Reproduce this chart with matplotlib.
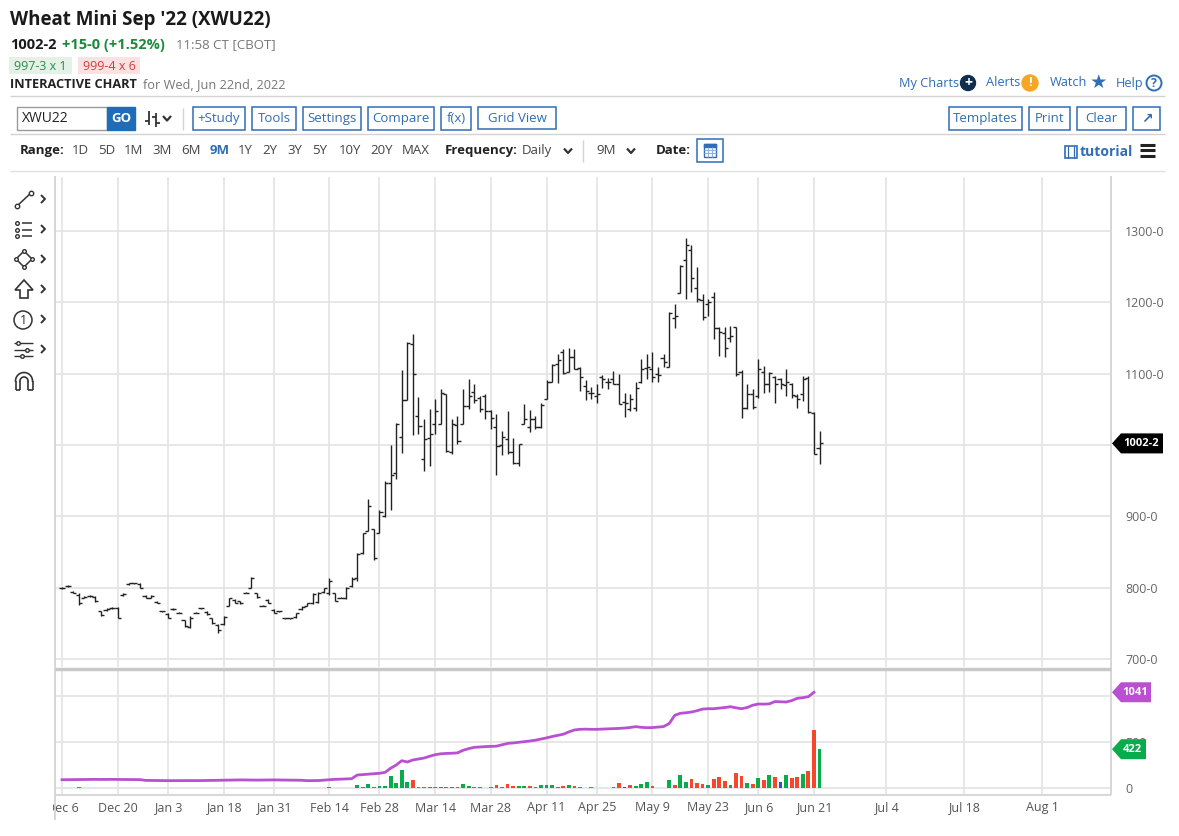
import numpy as np
import pandas as pd
import matplotlib
matplotlib.use('Agg')
import matplotlib.pyplot as plt
from matplotlib.patches import Rectangle, Polygon, Circle
from matplotlib.transforms import blended_transform_factory, Bbox

plt.rcParams['font.family'] = ['Open Sans', 'DejaVu Sans']

# ---------------- data ----------------
holidays = ['2021-12-24', '2022-01-17', '2022-02-21', '2022-04-15', '2022-05-30', '2022-06-20']
dates = pd.bdate_range('2021-12-06', '2022-06-22')
dates = dates[~dates.isin(pd.to_datetime(holidays))]

opens = [800, 802, 794, 790, 786, 789, 787, 767, 769, 772,
         772, 790, 805, 806, 805, 789, 786, 780, 767, 763,
         770, 765, 754, 745, 765, 771, 766, 757, 748, 749,
         775, 783, 781, 793, 800, 792, 775, 783, 769, 767,
         757, 757, 759, 770, 775, 778, 780, 794, 792, 792,
         786, 785, 802, 813, 848, 880, 882, 877, 900, 947,
         961, 1011, 1063, 1141, 1040, 980, 1010, 1030, 1030, 1071,
         990, 1028, 1029, 1054, 1075, 1066, 1068, 1048, 1025, 1000,
         1009, 990, 975, 1030, 1025, 1037, 1025, 1065, 1088, 1113,
         1130, 1103, 1124, 1108, 1083, 1073, 1068, 1095, 1088, 1092,
         1086, 1060, 1050, 1052, 1089, 1108, 1106, 1100, 1122, 1110,
         1178, 1213, 1260, 1274, 1220, 1203, 1198, 1208, 1164, 1157,
         1150, 1165, 1103, 1052, 1072, 1068, 1103, 1086, 1095, 1092,
         1084, 1086, 1068, 1072, 1094, 1045, 996]
highs = [801, 804, 795, 792, 788, 790, 788, 768, 771, 773,
         773, 792, 807, 807, 806, 790, 790, 781, 768, 764,
         771, 766, 755, 760, 766, 772, 767, 758, 749, 760,
         786, 784, 782, 794, 815, 793, 776, 784, 770, 768,
         758, 758, 765, 774, 779, 793, 794, 800, 813, 793,
         787, 801, 815, 849, 877, 925, 882, 909, 950, 1000,
         1031, 1105, 1144, 1156, 1067, 1037, 1050, 1064, 1078, 1072,
         1036, 1040, 1078, 1093, 1085, 1068, 1071, 1049, 1044, 1019,
         1048, 1010, 1002, 1057, 1049, 1040, 1059, 1091, 1114, 1128,
         1135, 1136, 1135, 1109, 1091, 1082, 1086, 1098, 1094, 1104,
         1100, 1073, 1071, 1089, 1121, 1128, 1131, 1109, 1127, 1187,
         1197, 1253, 1290, 1281, 1249, 1212, 1205, 1215, 1166, 1165,
         1167, 1166, 1105, 1085, 1079, 1120, 1111, 1103, 1097, 1094,
         1107, 1087, 1072, 1097, 1097, 1046, 1019]
lows = [798, 801, 792, 776, 785, 787, 780, 760, 768, 770,
        757, 789, 804, 805, 799, 785, 785, 778, 766, 757,
        769, 764, 745, 743, 764, 770, 762, 749, 736, 748,
        774, 778, 777, 792, 800, 786, 774, 778, 764, 766,
        756, 756, 758, 769, 774, 777, 779, 793, 790, 781,
        785, 784, 801, 810, 847, 879, 839, 876, 899, 909,
        953, 989, 1063, 1014, 1016, 963, 971, 1016, 1029, 990,
        987, 1001, 1029, 1051, 1059, 1046, 1036, 1022, 958, 986,
        988, 973, 971, 1029, 1018, 1023, 1024, 1064, 1088, 1087,
        1100, 1103, 1106, 1076, 1063, 1064, 1059, 1080, 1079, 1085,
        1057, 1039, 1047, 1047, 1087, 1092, 1089, 1089, 1110, 1109,
        1164, 1213, 1205, 1214, 1200, 1175, 1181, 1148, 1125, 1124,
        1145, 1097, 1038, 1051, 1051, 1066, 1073, 1075, 1059, 1078,
        1068, 1066, 1052, 1061, 1045, 987, 973]
closes = [800, 803, 793, 778, 787, 788, 781, 761, 770, 771,
          758, 791, 806, 806, 800, 786, 789, 779, 767, 758,
          770, 765, 746, 758, 765, 771, 763, 750, 740, 759,
          785, 779, 778, 793, 813, 787, 775, 779, 765, 767,
          757, 757, 764, 773, 778, 791, 792, 799, 810, 782,
          786, 800, 812, 847, 876, 914, 841, 906, 947, 958,
          1030, 1063, 1143, 1100, 1026, 1009, 1015, 1048, 1073, 991,
          1030, 1005, 1054, 1068, 1063, 1050, 1047, 1038, 998, 1011,
          990, 975, 1001, 1037, 1036, 1025, 1056, 1088, 1112, 1119,
          1101, 1124, 1107, 1096, 1076, 1073, 1072, 1093, 1089, 1086,
          1058, 1059, 1064, 1080, 1107, 1110, 1096, 1098, 1117, 1185,
          1181, 1251, 1281, 1234, 1204, 1180, 1200, 1164, 1159, 1136,
          1153, 1099, 1052, 1072, 1053, 1106, 1086, 1101, 1086, 1086,
          1088, 1070, 1064, 1092, 1046, 987.25, 1002.25]
volume = [4, 4, 4, 8, 4, 4, 4, 4, 4, 4,
          4, 4, 4, 4, 4, 4, 4, 4, 4, 4,
          4, 4, 4, 4, 4, 4, 4, 4, 4, 4,
          4, 4, 4, 4, 4, 4, 4, 4, 4, 4,
          4, 4, 4, 4, 4, 5, 5, 5, 6, 3,
          3, 4, 4, 33, 11, 43, 11, 22, 25, 130,
          54, 192, 69, 90, 11, 11, 11, 11, 14, 11,
          7, 14, 43, 25, 11, 11, 4, 11, 33, 14,
          43, 18, 18, 22, 25, 11, 29, 29, 29, 11,
          25, 36, 18, 11, 3, 7, 3, 3, 3, 11,
          54, 14, 29, 22, 40, 62, 18, 4, 4, 87,
          36, 138, 65, 94, 51, 40, 33, 98, 116, 76,
          29, 163, 130, 54, 43, 105, 87, 138, 116, 69,
          141, 105, 116, 152, 185, 634, 422]
# g = up, r = down, b = unchanged
vol_dir = ("ggrrggrrgg" "rggbrrgrrr" "grrgggrrrg" "grrggrrgrg" "rbgggggggr"
           "ggggggrggg" "gggrrrgrgr" "grggrrgrrg" "rrggrrgggg" "rgrrrrrgrr"
           "rbrgggrggg" "rggrrrgrrr" "grrgrgrgrb" "grrgrrg")
open_int = [90, 90, 91, 92, 93, 94, 94, 93, 94, 94,
            93, 93, 92, 92, 91, 83, 82, 81, 81, 80,
            80, 81, 80, 80, 81, 81, 82, 83, 85, 86,
            87, 87, 88, 87, 87, 86, 87, 87, 88, 87,
            86, 86, 85, 84, 80, 80, 81, 86, 90, 94,
            96, 98, 101, 141, 146, 150, 155, 160, 170, 215,
            250, 297, 283, 305, 316, 326, 345, 362, 372, 376,
            378, 382, 410, 428, 442, 446, 450, 452, 455, 470,
            485, 490, 497, 503, 511, 520, 532, 545, 560, 573,
            585, 610, 631, 638, 640, 638, 638, 641, 643, 645,
            648, 652, 658, 667, 660, 656, 657, 662, 668, 700,
            790, 812, 818, 826, 840, 858, 862, 862, 868, 875,
            884, 872, 862, 875, 900, 913, 912, 915, 940, 938,
            935, 950, 975, 982, 993, 1041]

tick_dates = ['2021-12-06', '2021-12-20', '2022-01-03', '2022-01-18', '2022-01-31',
              '2022-02-14', '2022-02-28', '2022-03-14', '2022-03-28', '2022-04-11',
              '2022-04-25', '2022-05-09', '2022-05-23', '2022-06-06', '2022-06-21',
              '2022-07-04', '2022-07-18', '2022-08-01']
price_ticks = [700, 800, 900, 1000, 1100, 1200, 1300]
vol_ticks = [0, 500, 1000]
last_price, last_price_txt = 1002.25, '1002-2'

# ---------------- layout ----------------
W, H = 1179, 836
fig = plt.figure(figsize=(W / 100, H / 100), dpi=100)


def fbox(x0, y0, x1, y1):
    return [x0 / W, 1 - y1 / H, (x1 - x0) / W, (y1 - y0) / H]


ax = fig.add_axes(fbox(55, 177, 1110, 667))
axv = fig.add_axes(fbox(55, 670, 1110, 795))
bg = fig.add_axes([0, 0, 1, 1], zorder=10)
bg.set_xlim(0, W)
bg.set_ylim(H, 0)
bg.axis('off')

x = np.arange(len(closes))
tick_pos = []
for d in pd.to_datetime(tick_dates):
    if d in dates:
        tick_pos.append(dates.get_loc(d))
    else:
        tick_pos.append(len(dates) - 1 + (d - dates[-1]).days)

xlim = (-1.257, 188.15)
grid_kw = dict(color='#e3e3e3', lw=1.2)

# price bars
ax.vlines(x, lows, highs, color='#222222', lw=1.0)
ax.hlines(opens, x - 0.55, x, color='#222222', lw=1.0)
ax.hlines(closes, x, x + 0.55, color='#222222', lw=1.0)
ax.set_xlim(*xlim)
ax.set_ylim(688.8, 1375.7)
ax.set_xticks(tick_pos)
ax.set_yticks(price_ticks)
# the label under the last-price tag is hidden by the tag in the original
ax.set_yticklabels(['' if abs(p - last_price) < 20 else f'{p}-0' for p in price_ticks])
ax.yaxis.tick_right()
ax.tick_params(length=0, pad=11, labelsize=9, labelcolor='#666666', labelbottom=False)
ax.grid(True, **grid_kw)
ax.set_axisbelow(True)
for s in ax.spines.values():
    s.set_visible(False)

# volume + open interest
cmap = {'g': '#0aab4b', 'r': '#f4472b', 'b': '#2a52c4'}
axv.bar(x, volume, width=0.68, color=[cmap[c] for c in vol_dir], lw=0, zorder=3)
axv.plot(x[:len(open_int)], open_int, color='#b94fd1', lw=2, zorder=4)
axv.set_xlim(*xlim)
axv.set_ylim(-76, 1283)
axv.set_xticks(tick_pos)
axv.set_yticks(vol_ticks)
axv.set_yticklabels(['' if abs(v - open_int[-1]) < 100 else str(v) for v in vol_ticks])
axv.yaxis.tick_right()
axv.tick_params(length=0, pad=11, labelsize=9, labelcolor='#666666', labelbottom=False)
axv.grid(True, **grid_kw)
axv.set_axisbelow(True)
for s in axv.spines.values():
    s.set_visible(False)

# date labels (clipped at the left border like the original)
tr = blended_transform_factory(axv.transData, bg.transData)
for p, d in zip(tick_pos, pd.to_datetime(tick_dates)):
    t = bg.text(p, 808, f'{d:%b} {d.day}', transform=tr, ha='center', va='center',
                fontsize=9, color='#555555')
    t.set_clip_on(True)
    t.set_clip_box(Bbox.from_extents(53, 0, W, H))


def txt(x, y, s, size=9.5, color='#333333', weight='normal', ha='left', va='center', **kw):
    return bg.text(x, y, s, fontsize=size, color=color, fontweight=weight, ha=ha, va=va, **kw)


def line(xs, ys, color='#d2d2d2', lw=1.0, **kw):
    bg.plot(xs, ys, color=color, lw=lw, solid_capstyle='butt', **kw)


def chev_down(cx, cy, color='#333333'):
    line([cx - 4, cx, cx + 4], [cy - 2.5, cy + 2, cy - 2.5], color=color, lw=1.6)


def chev_right(cx, cy, color='#333333'):
    line([cx - 2, cx + 2, cx - 2], [cy - 4, cy, cy + 4], color=color, lw=1.4)


BLUE = '#2f6db5'


def button(x0, x1, y0, y1, label, size=9.5):
    bg.add_patch(Rectangle((x0, y0), x1 - x0, y1 - y0, facecolor='white', edgecolor=BLUE, lw=1.1))
    if label:
        txt((x0 + x1) / 2, (y0 + y1) / 2, label, size=size, color=BLUE, ha='center')


def tag(yv_ax, value, label, color, x1):
    yp = H - yv_ax.transData.transform((0, value))[1]
    bg.add_patch(Polygon([(1112, yp), (1121, yp - 10), (x1, yp - 10), (x1, yp + 10), (1121, yp + 10)],
                         closed=True, facecolor=color, edgecolor='none'))
    txt((1119 + x1) / 2, yp, label, size=8, color='white', weight='bold', ha='center')


# ---------------- header ----------------
txt(10, 20, "Wheat Mini Sep '22 (XWU22)", size=13.5, color='#1a1a1a', weight='bold')
txt(10, 45, '1002-2', size=10.5, color='#1a1a1a', weight='bold')
txt(62, 45, '+15-0 (+1.52%)', size=10.5, color='#1b8a3c', weight='bold')
txt(176, 45, '11:58 CT [CBOT]', size=9.5, color='#777777')
bg.add_patch(Rectangle((9, 57), 63, 17, facecolor='#e4f1e7', edgecolor='none'))
txt(40.5, 66, '997-3 x 1', size=9, color='#2e8b4a', ha='center')
bg.add_patch(Rectangle((78, 57), 62, 17, facecolor='#fbe2e2', edgecolor='none'))
txt(109, 66, '999-4 x 6', size=9, color='#d8393a', ha='center')
txt(10, 85, 'INTERACTIVE CHART', size=9.2, color='#222222', weight='bold')
txt(143, 85, 'for Wed, Jun 22nd, 2022', size=9.2, color='#777777')

txt(899, 83, 'My Charts', size=9.2, color=BLUE)
bg.add_patch(Circle((968, 83), 7.5, color='#0f2d4f'))
txt(968, 83, '+', size=10, color='white', weight='bold', ha='center')
txt(986, 83, 'Alerts', size=9.2, color=BLUE)
bg.add_patch(Circle((1030, 83), 8, color='#f6a623'))
txt(1030, 83, '!', size=9.5, color='white', weight='bold', ha='center')
txt(1050, 83, 'Watch', size=9.2, color=BLUE)
txt(1098, 83, '★', size=14, color=BLUE, ha='center')
txt(1116, 83, 'Help', size=9.2, color=BLUE)
bg.add_patch(Circle((1154, 83), 7.5, facecolor='white', edgecolor=BLUE, lw=1.4))
txt(1154, 83.5, '?', size=9, color=BLUE, weight='bold', ha='center')

line([10, 1165], [96, 96])
line([10, 1165], [134, 134])
line([10, 1165], [171, 171], color='#e0e0e0')

# toolbar row
bg.add_patch(Rectangle((17, 107), 90, 23, facecolor='white', edgecolor='#9a9a9a', lw=1))
txt(22, 118.5, 'XWU22', size=10, color='#222222')
bg.add_patch(Rectangle((107, 107), 28, 23, facecolor='#1f6cb8', edgecolor='#1f6cb8', lw=1))
txt(121, 118.5, 'GO', size=9.5, color='white', weight='bold', ha='center')
line([149, 149], [111, 125], color='#333333', lw=1.3)
line([145, 149], [121, 121], color='#333333', lw=1.3)
line([156, 156], [113, 127], color='#333333', lw=1.3)
line([152, 156], [117, 117], color='#333333', lw=1.3)
line([156, 160], [123, 123], color='#333333', lw=1.3)
chev_down(167, 118.5)
line([183, 183], [108, 130], color='#d2d2d2')
button(193, 245, 107, 130, '+Study')
button(252, 296, 107, 130, 'Tools')
button(303, 361, 107, 130, 'Settings')
button(368, 434, 107, 130, 'Compare')
button(441, 471, 107, 130, 'f(x)')
button(478, 556, 107, 129, 'Grid View')
button(949, 1022, 107, 130, 'Templates')
button(1029, 1070, 107, 130, 'Print')
button(1077, 1126, 107, 130, 'Clear')
button(1133, 1160, 107, 130, '')
txt(1146.5, 118.5, '↗', size=10, color=BLUE, weight='bold', ha='center')

# range row
txt(20, 150.5, 'Range:', size=9.5, color='#222222', weight='bold')
for xp, lab in [(72, '1D'), (98, '5D'), (124, '1M'), (152, '3M'), (181, '6M'), (210, '9M'),
                (238, '1Y'), (262, '2Y'), (287, '3Y'), (312, '5Y'), (339, '10Y'),
                (370, '20Y'), (402, 'MAX')]:
    if lab == '9M':
        txt(xp, 150.5, lab, size=9.5, color=BLUE, weight='bold')
    else:
        txt(xp, 150.5, lab, size=9.5, color='#444444')
txt(445, 150.5, 'Frequency:', size=9.5, color='#222222', weight='bold')
txt(522, 150.5, 'Daily', size=9.5, color='#444444')
chev_down(568, 151)
line([583, 583], [140, 162], color='#d2d2d2')
txt(596, 150.5, '9M', size=9.5, color='#444444')
chev_down(631, 151)
txt(656, 150.5, 'Date:', size=9.5, color='#222222', weight='bold')
button(697, 723, 139, 162, '')
bg.add_patch(Rectangle((704, 143.5), 12, 13, facecolor='white', edgecolor=BLUE, lw=1))
bg.add_patch(Rectangle((704, 143.5), 12, 3, facecolor=BLUE, edgecolor=BLUE, lw=1))
for gx in (708, 712):
    line([gx, gx], [147, 156.5], color='#8fb3dd', lw=0.8)
for gy in (150, 153):
    line([704, 716], [gy, gy], color='#8fb3dd', lw=0.8)
bg.add_patch(Rectangle((1065, 146), 12, 12, facecolor='white', edgecolor=BLUE, lw=1.2))
line([1068, 1068], [146, 158], color=BLUE, lw=0.9)
line([1074, 1074], [146, 158], color=BLUE, lw=0.9)
txt(1080, 152, 'tutorial', size=10, color=BLUE, weight='bold')
for hy in (144.5, 150, 155.5):
    line([1140, 1155], [hy, hy], color='#222222', lw=2.2)

# left drawing tools
ic = '#333333'
line([17, 31], [206, 193], color=ic, lw=1.1)
bg.plot([17, 31], [206, 193], 'o', ms=3.2, mfc='white', mec=ic, mew=1)
chev_right(43, 199)
for yy in (223, 229.5, 236):
    bg.plot([17], [yy], 'o', ms=2.6, mfc='white', mec=ic, mew=1)
    line([22, 32], [yy, yy], color=ic, lw=1.1)
chev_right(43, 229)
bg.add_patch(Polygon([(24, 251), (32, 259), (24, 267), (16, 259)], closed=True,
                     facecolor='none', edgecolor=ic, lw=1.1))
bg.plot([24, 32, 24, 16], [251, 259, 267, 259], 'o', ms=2.6, mfc='white', mec=ic, mew=1)
chev_right(43, 259)
bg.add_patch(Polygon([(24, 280), (33, 290), (28, 290), (28, 298), (20, 298), (20, 290), (15, 290)],
                     closed=True, facecolor='none', edgecolor=ic, lw=1.2))
chev_right(43, 289)
bg.add_patch(Circle((23, 320), 9, facecolor='none', edgecolor=ic, lw=1.1))
txt(23, 320, '1', size=9, color=ic, ha='center')
chev_right(43, 319)
for yy in (343, 349.5, 356):
    line([14, 33], [yy, yy], color=ic, lw=1.0)
bg.plot([18, 27, 22], [343, 349.5, 356], 'o', ms=2.6, mfc='white', mec=ic, mew=1)
chev_right(43, 349)
# magnet
th = np.linspace(0, np.pi, 30)
bg.plot(24 + 8.5 * np.cos(th), 381 - 8.5 * np.sin(th), color=ic, lw=1.2)
bg.plot(24 + 4 * np.cos(th), 381 - 4 * np.sin(th), color=ic, lw=1.2)
line([15.5, 15.5], [381, 390], color=ic, lw=1.2)
line([32.5, 32.5], [381, 390], color=ic, lw=1.2)
line([20, 20], [381, 390], color=ic, lw=1.2)
line([28, 28], [381, 390], color=ic, lw=1.2)
line([15.5, 20], [390, 390], color=ic, lw=1.2)
line([28, 32.5], [390, 390], color=ic, lw=1.2)

# chart frame
line([55, 55], [176, 820], color='#d0d0d0', lw=1.2)
line([1110.5, 1110.5], [176, 795], color='#d0d0d0', lw=1.2)
line([55, 1110.5], [668.5, 668.5], color='#c8c8c8', lw=2.5)
line([55, 1110.5], [795, 795], color='#d8d8d8', lw=1.5)

# value tags
tag(ax, last_price, last_price_txt, '#000000', 1163)
tag(axv, open_int[-1], str(open_int[-1]), '#b94fd1', 1151)
tag(axv, volume[-1], str(volume[-1]), '#0aab4b', 1146)

fig.savefig('out.png', dpi=100)
